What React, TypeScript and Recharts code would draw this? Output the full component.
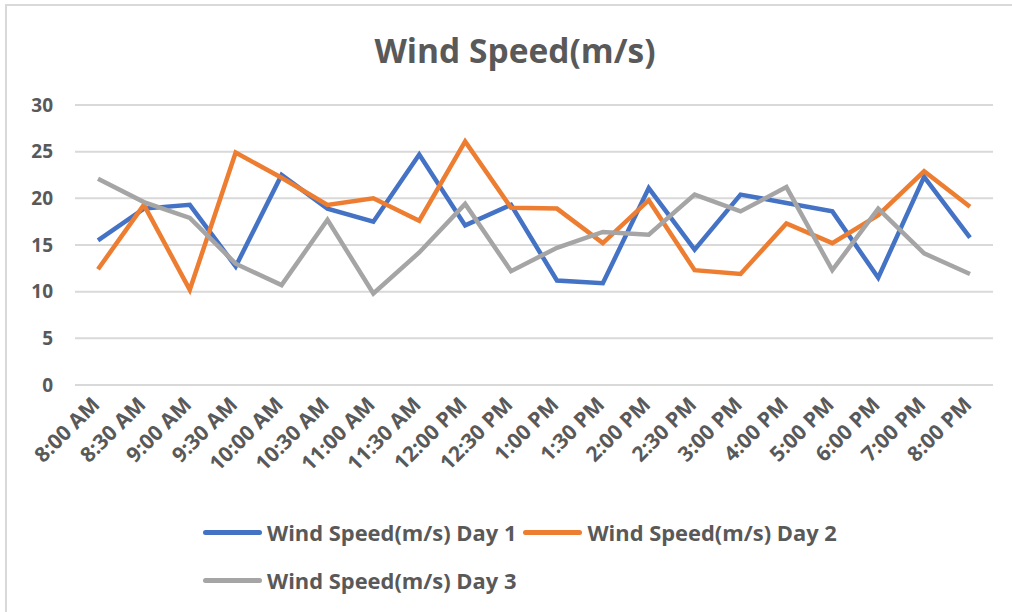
import { LineChart, Line, XAxis, YAxis, CartesianGrid } from "recharts";

const times = [
  "8:00 AM", "8:30 AM", "9:00 AM", "9:30 AM", "10:00 AM", "10:30 AM", "11:00 AM",
  "11:30 AM", "12:00 PM", "12:30 PM", "1:00 PM", "1:30 PM", "2:00 PM", "2:30 PM",
  "3:00 PM", "4:00 PM", "5:00 PM", "6:00 PM", "7:00 PM", "8:00 PM",
];

const day1 = [15.5, 18.9, 19.3, 12.7, 22.5, 18.9, 17.5, 24.7, 17.1, 19.3, 11.2, 10.9, 21.1, 14.5, 20.4, 19.5, 18.6, 11.5, 22.3, 15.8];
const day2 = [12.4, 19.3, 10.2, 24.9, 22.2, 19.3, 20.0, 17.6, 26.1, 19.0, 18.9, 15.2, 19.8, 12.3, 11.9, 17.3, 15.2, 18.2, 22.9, 19.1];
const day3 = [22.1, 19.6, 17.9, 13.0, 10.7, 17.7, 9.8, 14.2, 19.4, 12.2, 14.7, 16.4, 16.1, 20.4, 18.6, 21.2, 12.3, 18.9, 14.1, 11.9];

const yTicks = [0, 5, 10, 15, 20, 25, 30];

const series = [
  { key: "day1", name: "Wind Speed(m/s) Day 1", color: "#4472C4" },
  { key: "day2", name: "Wind Speed(m/s) Day 2", color: "#ED7D31" },
  { key: "day3", name: "Wind Speed(m/s) Day 3", color: "#A5A5A5" },
];

const data = times.map((t, i) => ({ time: t, day1: day1[i], day2: day2[i], day3: day3[i] }));

const FONT = "'Open Sans', sans-serif";
const TEXT = "#595959";

function TimeTick(props: any) {
  const { x, y, payload } = props;
  return (
    <g transform={`translate(${x + 3},${y + 21})`}>
      <text
        x={0}
        y={0}
        textAnchor="end"
        transform="rotate(-45)"
        fill={TEXT}
        fontSize={21}
        fontWeight={700}
        fontFamily={FONT}
      >
        {payload.value}
      </text>
    </g>
  );
}

export default function App() {
  return (
    <div style={{ position: "absolute", left: 0, top: 0, width: 1012, height: 612, background: "#fff", fontFamily: FONT }}>
      <div
        style={{
          position: "absolute",
          left: 5,
          top: 4,
          width: 1007,
          height: 608,
          borderTop: "2px solid #d9d9d9",
          borderLeft: "2px solid #d9d9d9",
        }}
      />
      <div
        style={{
          position: "absolute",
          left: 0,
          top: 28,
          width: 1030,
          textAlign: "center",
          fontSize: 33.5,
          lineHeight: "44px",
          fontWeight: 700,
          color: TEXT,
        }}
      >
        Wind Speed(m/s)
      </div>
      <div style={{ position: "absolute", left: 0, top: 0 }}>
        <LineChart width={1012} height={612} data={data} margin={{ top: 105, right: 19, left: 5, bottom: 127 }}>
          <CartesianGrid vertical={false} stroke="#d9d9d9" strokeWidth={2} />
          <XAxis
            dataKey="time"
            interval={0}
            height={100}
            axisLine={false}
            tickLine={false}
            tickSize={0}
            tickMargin={0}
            padding={{ left: 23, right: 23 }}
            tick={<TimeTick />}
          />
          <YAxis
            width={70}
            domain={[0, 30]}
            ticks={yTicks}
            axisLine={false}
            tickLine={false}
            tickSize={0}
            tickMargin={22}
            tick={{ fill: TEXT, fontSize: 19, fontWeight: 700, fontFamily: FONT }}
          />
          {series.map((s) => (
            <Line
              key={s.key}
              dataKey={s.key}
              name={s.name}
              stroke={s.color}
              strokeWidth={4.5}
              dot={false}
              isAnimationActive={false}
            />
          ))}
        </LineChart>
      </div>
      <div
        style={{
          position: "absolute",
          left: 203,
          top: 514,
          width: 690,
          display: "flex",
          flexWrap: "wrap",
          rowGap: 12,
        }}
      >
        {series.map((s) => (
          <div key={s.key} style={{ display: "flex", alignItems: "center", marginRight: 7, height: 36 }}>
            <div style={{ width: 59, height: 5, borderRadius: 3, background: s.color, marginRight: 5 }} />
            <span style={{ fontSize: 21.9, fontWeight: 700, color: TEXT, whiteSpace: "nowrap" }}>{s.name}</span>
          </div>
        ))}
      </div>
    </div>
  );
}
